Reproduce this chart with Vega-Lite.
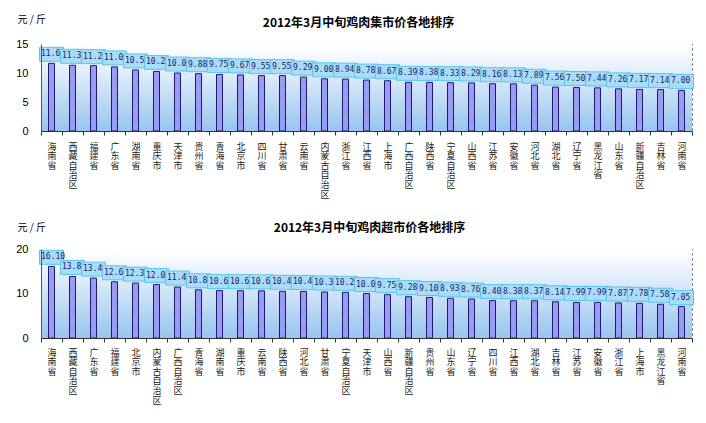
{
  "$schema": "https://vega.github.io/schema/vega-lite/v6.json",
  "background": "white",
  "padding": {"left": 15, "top": 13, "right": 10, "bottom": 5},
  "spacing": 20,
  "config": {
    "view": {"stroke": "#555", "strokeDash": [2, 3], "strokeWidth": 1},
    "font": "Noto Sans CJK SC"
  },
  "datasets": {
    "market": [
      {"region": "海南省", "v": 11.67},
      {"region": "西藏自治区", "v": 11.33},
      {"region": "福建省", "v": 11.27},
      {"region": "广东省", "v": 11.05},
      {"region": "湖南省", "v": 10.53},
      {"region": "重庆市", "v": 10.27},
      {"region": "天津市", "v": 10.00},
      {"region": "贵州省", "v": 9.88},
      {"region": "青海省", "v": 9.75},
      {"region": "北京市", "v": 9.67},
      {"region": "四川省", "v": 9.55},
      {"region": "甘肃省", "v": 9.55},
      {"region": "云南省", "v": 9.29},
      {"region": "内蒙古自治区", "v": 9.00},
      {"region": "浙江省", "v": 8.94},
      {"region": "江西省", "v": 8.78},
      {"region": "上海市", "v": 8.67},
      {"region": "广西自治区", "v": 8.39},
      {"region": "陕西省", "v": 8.38},
      {"region": "宁夏自治区", "v": 8.33},
      {"region": "山西省", "v": 8.29},
      {"region": "江苏省", "v": 8.16},
      {"region": "安徽省", "v": 8.13},
      {"region": "河北省", "v": 7.89},
      {"region": "湖北省", "v": 7.56},
      {"region": "辽宁省", "v": 7.50},
      {"region": "黑龙江省", "v": 7.44},
      {"region": "山东省", "v": 7.26},
      {"region": "新疆自治区", "v": 7.17},
      {"region": "吉林省", "v": 7.14},
      {"region": "河南省", "v": 7.00}
    ],
    "supermarket": [
      {"region": "海南省", "v": 16.10},
      {"region": "西藏自治区", "v": 13.83},
      {"region": "广东省", "v": 13.45},
      {"region": "福建省", "v": 12.63},
      {"region": "北京市", "v": 12.33},
      {"region": "内蒙古自治区", "v": 12.00},
      {"region": "广西自治区", "v": 11.45},
      {"region": "青海省", "v": 10.83},
      {"region": "湖南省", "v": 10.65},
      {"region": "重庆市", "v": 10.63},
      {"region": "云南省", "v": 10.60},
      {"region": "陕西省", "v": 10.48},
      {"region": "河北省", "v": 10.45},
      {"region": "甘肃省", "v": 10.33},
      {"region": "宁夏自治区", "v": 10.25},
      {"region": "天津市", "v": 10.00},
      {"region": "山西省", "v": 9.75},
      {"region": "新疆自治区", "v": 9.28},
      {"region": "贵州省", "v": 9.10},
      {"region": "山东省", "v": 8.93},
      {"region": "辽宁省", "v": 8.76},
      {"region": "四川省", "v": 8.40},
      {"region": "江西省", "v": 8.38},
      {"region": "湖北省", "v": 8.37},
      {"region": "吉林省", "v": 8.14},
      {"region": "江苏省", "v": 7.99},
      {"region": "安徽省", "v": 7.99},
      {"region": "浙江省", "v": 7.87},
      {"region": "上海市", "v": 7.78},
      {"region": "黑龙江省", "v": 7.58},
      {"region": "河南省", "v": 7.05}
    ]
  },
  "vconcat": [
    {
      "width": 651,
      "height": 87,
      "data": {"name": "market"},
      "resolve": {"axis": {"y": "independent"}},
      "layer": [
        {
          "data": {"values": [{}]},
          "mark": {"type": "rect", "fill": {"gradient": "linear", "x1": 0, "y1": 0, "x2": 0, "y2": 1, "stops": [{"offset": 0, "color": "#ffffff"}, {"offset": 0.12, "color": "#f6fafe"}, {"offset": 1, "color": "#98c4f0"}]}},
          "encoding": {
            "y": {"datum": 0, "type": "quantitative", "scale": {"domain": [0, 15], "nice": false},
              "axis": {"title": "2012年3月中旬鸡肉集市价各地排序", "orient": "left", "values": [0, 5, 10, 15], "labelOverlap": false, "titleAngle": 0, "titleAlign": "center", "titleBaseline": "bottom", "titleX": 317, "titleY": -15, "titleLimit": 500, "titleFont": "Noto Sans CJK SC", "titleFontSize": 12, "titleFontWeight": "bold", "titleColor": "#000", "labelFont": "Liberation Sans", "labelFontSize": 11, "labelColor": "#000", "ticks": false, "labelPadding": 13, "domainColor": "#555", "gridColor": "#444", "gridDash": [2, 3], "zindex": 1}},
            "y2": {"datum": 15}
          }
        },
        {
          "encoding": {
            "x": {"field": "region", "type": "nominal", "sort": null, "title": null, "scale": {"paddingInner": 0, "paddingOuter": 0},
              "axis": {"labelExpr": "split(datum.label, '')", "labelAngle": 0, "labelAlign": "center", "labelBaseline": "top", "labelFont": "Noto Sans CJK SC", "labelFontSize": 9, "labelLineHeight": 9.6, "labelColor": "#222", "labelPadding": 7, "labelOverlap": false, "tickBand": "extent", "tickSize": 4, "tickColor": "#333", "domainColor": "#333", "grid": false, "zindex": 1}},
            "y": {"field": "v", "type": "quantitative", "title": "元 / 斤",
              "axis": {"orient": "right", "labels": false, "ticks": false, "domain": false, "grid": false, "titleAngle": 0, "titleAlign": "left", "titleBaseline": "top", "titleX": -675, "titleY": -30, "titleFont": "Noto Sans CJK SC", "titleFontSize": 10, "titleFontWeight": "normal", "titleColor": "#000"}}
          },
          "layer": [
            {"mark": {"type": "bar", "width": 6, "fill": "#9b9bf6", "stroke": "#1c1c6e", "strokeWidth": 1}},
            {
              "mark": {"type": "bar", "width": 24, "fill": "#a9ddf7", "stroke": "#5ec4ea", "strokeWidth": 1, "yOffset": -2, "y2Offset": -16},
              "encoding": {"y2": {"field": "v"}}
            },
            {
              "mark": {"type": "text", "font": "DejaVu Sans Mono", "fontSize": 8, "color": "#1a1a6e", "align": "left", "baseline": "middle", "dx": -10.5, "dy": -9, "limit": 22, "ellipsis": "\u200b"},
              "encoding": {"text": {"field": "v", "type": "quantitative", "format": ".2f"}}
            }
          ]
        }
      ]
    },
    {
      "width": 651,
      "height": 89,
      "data": {"name": "supermarket"},
      "resolve": {"axis": {"y": "independent"}},
      "layer": [
        {
          "data": {"values": [{}]},
          "mark": {"type": "rect", "fill": {"gradient": "linear", "x1": 0, "y1": 0, "x2": 0, "y2": 1, "stops": [{"offset": 0, "color": "#ffffff"}, {"offset": 0.12, "color": "#f6fafe"}, {"offset": 1, "color": "#98c4f0"}]}},
          "encoding": {
            "y": {"datum": 0, "type": "quantitative", "scale": {"domain": [0, 20], "nice": false},
              "axis": {"title": "2012年3月中旬鸡肉超市价各地排序", "orient": "left", "values": [0, 10, 20], "labelOverlap": false, "titleAngle": 0, "titleAlign": "center", "titleBaseline": "bottom", "titleX": 328, "titleY": -15, "titleLimit": 500, "titleFont": "Noto Sans CJK SC", "titleFontSize": 12, "titleFontWeight": "bold", "titleColor": "#000", "labelFont": "Liberation Sans", "labelFontSize": 11, "labelColor": "#000", "ticks": false, "labelPadding": 13, "domainColor": "#555", "gridColor": "#444", "gridDash": [2, 3], "zindex": 1}},
            "y2": {"datum": 20}
          }
        },
        {
          "encoding": {
            "x": {"field": "region", "type": "nominal", "sort": null, "title": null, "scale": {"paddingInner": 0, "paddingOuter": 0},
              "axis": {"labelExpr": "split(datum.label, '')", "labelAngle": 0, "labelAlign": "center", "labelBaseline": "top", "labelFont": "Noto Sans CJK SC", "labelFontSize": 9, "labelLineHeight": 9.6, "labelColor": "#222", "labelPadding": 6, "labelOverlap": false, "tickBand": "extent", "tickSize": 4, "tickColor": "#333", "domainColor": "#333", "grid": false, "zindex": 1}},
            "y": {"field": "v", "type": "quantitative", "title": "元 / 斤",
              "axis": {"orient": "right", "labels": false, "ticks": false, "domain": false, "grid": false, "titleAngle": 0, "titleAlign": "left", "titleBaseline": "top", "titleX": -675, "titleY": -27, "titleFont": "Noto Sans CJK SC", "titleFontSize": 10, "titleFontWeight": "normal", "titleColor": "#000"}}
          },
          "layer": [
            {"mark": {"type": "bar", "width": 6, "fill": "#9b9bf6", "stroke": "#1c1c6e", "strokeWidth": 1}},
            {
              "mark": {"type": "bar", "width": 24, "fill": "#a9ddf7", "stroke": "#5ec4ea", "strokeWidth": 1, "yOffset": -2, "y2Offset": -16},
              "encoding": {"y2": {"field": "v"}}
            },
            {
              "mark": {"type": "text", "font": "DejaVu Sans Mono", "fontSize": 8, "color": "#1a1a6e", "align": "left", "baseline": "middle", "dx": -10.5, "dy": -9, "limit": {"expr": "datum.v >= 16 ? 40 : 22"}, "ellipsis": "\u200b"},
              "encoding": {"text": {"field": "v", "type": "quantitative", "format": ".2f"}}
            }
          ]
        }
      ]
    }
  ]
}
